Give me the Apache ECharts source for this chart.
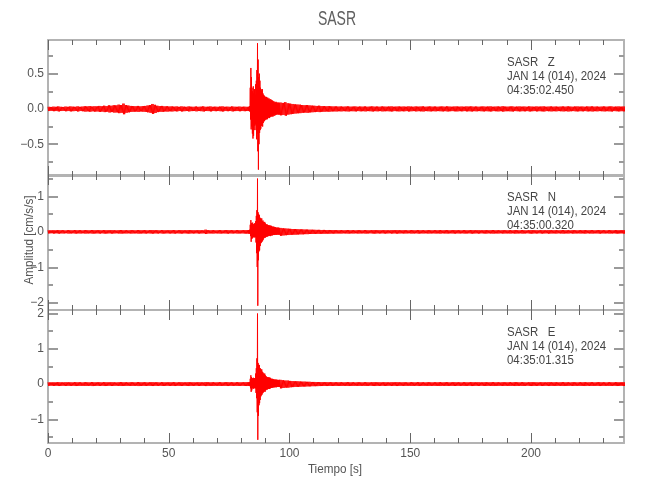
<!DOCTYPE html>
<html>
<head>
<meta charset="utf-8">
<script src="https://cdn.jsdelivr.net/npm/echarts@6/dist/echarts.min.js"></script>
<style>
html, body { margin: 0; background: #fff; }
#chart { width: 650px; height: 500px; }
</style>
</head>
<body>
<div id="chart"></div>
<script>
// envelope of each trace, one value per second (cm/s/s), t = 0..239
const zEnv = [
  0.03,0.028,0.032,0.03,0.035,0.03,0.028,0.033,0.03,0.035,
  0.032,0.03,0.036,0.03,0.033,0.038,0.035,0.04,0.034,0.038,
  0.036,0.042,0.038,0.045,0.04,0.05,0.045,0.052,0.05,0.06,
  0.055,0.075,0.055,0.048,0.042,0.04,0.038,0.042,0.036,0.04,
  0.042,0.048,0.055,0.07,0.058,0.045,0.04,0.042,0.036,0.038,
  0.034,0.036,0.032,0.035,0.03,0.036,0.032,0.03,0.035,0.031,
  0.03,0.034,0.03,0.032,0.036,0.03,0.031,0.035,0.03,0.032,
  0.03,0.033,0.036,0.03,0.032,0.03,0.035,0.031,0.03,0.033,
  0.03,0.032,0.03,0.3,0.45,0.35,0.6,0.9,0.4,0.25,
  0.17,0.15,0.13,0.11,0.1,0.09,0.09,0.085,0.095,0.08,
  0.075,0.07,0.065,0.062,0.06,0.055,0.052,0.055,0.05,0.047,
  0.045,0.042,0.045,0.04,0.04,0.037,0.04,0.036,0.035,0.036,
  0.033,0.035,0.032,0.034,0.036,0.032,0.033,0.035,0.031,0.034,
  0.032,0.035,0.031,0.033,0.036,0.032,0.034,0.031,0.035,0.033,
  0.032,0.034,0.036,0.031,0.033,0.035,0.032,0.034,0.031,0.036,
  0.033,0.031,0.035,0.032,0.034,0.036,0.031,0.033,0.035,0.032,
  0.034,0.031,0.033,0.035,0.032,0.036,0.033,0.031,0.034,0.035,
  0.032,0.034,0.031,0.035,0.033,0.036,0.032,0.034,0.031,0.033,
  0.035,0.032,0.034,0.036,0.031,0.033,0.035,0.032,0.038,0.033,
  0.032,0.034,0.036,0.031,0.033,0.035,0.032,0.034,0.031,0.036,
  0.033,0.031,0.035,0.032,0.034,0.036,0.031,0.033,0.035,0.032,
  0.034,0.031,0.033,0.035,0.032,0.036,0.033,0.031,0.034,0.035,
  0.032,0.034,0.031,0.035,0.033,0.036,0.032,0.034,0.031,0.033,
  0.035,0.032,0.034,0.036,0.031,0.033,0.035,0.032,0.034,0.033
];
const nEnv = [
  0.045,0.04,0.048,0.042,0.05,0.044,0.046,0.04,0.048,0.045,
  0.042,0.05,0.044,0.047,0.041,0.049,0.045,0.043,0.05,0.046,
  0.044,0.048,0.042,0.05,0.046,0.043,0.049,0.045,0.041,0.047,
  0.05,0.044,0.046,0.042,0.048,0.045,0.043,0.05,0.046,0.044,
  0.048,0.042,0.046,0.05,0.044,0.047,0.041,0.049,0.045,0.043,
  0.047,0.044,0.05,0.042,0.046,0.048,0.043,0.045,0.05,0.044,
  0.046,0.042,0.048,0.045,0.043,0.06,0.046,0.044,0.048,0.042,
  0.045,0.049,0.043,0.046,0.05,0.044,0.047,0.042,0.048,0.045,
  0.044,0.048,0.05,0.3,0.33,0.26,0.5,1.5,0.5,0.3,
  0.24,0.19,0.17,0.14,0.12,0.11,0.11,0.1,0.095,0.09,
  0.085,0.08,0.08,0.075,0.07,0.07,0.065,0.065,0.06,0.06,
  0.058,0.055,0.056,0.052,0.054,0.05,0.052,0.048,0.05,0.047,
  0.045,0.048,0.043,0.046,0.05,0.044,0.047,0.042,0.048,0.045,
  0.043,0.049,0.045,0.042,0.047,0.05,0.044,0.046,0.043,0.048,
  0.045,0.042,0.048,0.044,0.05,0.046,0.043,0.047,0.045,0.041,
  0.048,0.045,0.043,0.05,0.044,0.046,0.042,0.048,0.045,0.043,
  0.047,0.044,0.05,0.042,0.046,0.048,0.043,0.045,0.049,0.044,
  0.046,0.042,0.048,0.045,0.043,0.05,0.046,0.044,0.048,0.042,
  0.045,0.049,0.043,0.046,0.05,0.044,0.047,0.042,0.048,0.045,
  0.044,0.048,0.042,0.05,0.046,0.043,0.049,0.045,0.041,0.047,
  0.05,0.044,0.046,0.042,0.048,0.045,0.043,0.05,0.046,0.044,
  0.048,0.042,0.046,0.05,0.044,0.047,0.041,0.049,0.045,0.043,
  0.047,0.044,0.05,0.042,0.046,0.048,0.043,0.045,0.05,0.044,
  0.046,0.042,0.048,0.045,0.043,0.05,0.046,0.044,0.048,0.046
];
const eEnv = [
  0.05,0.046,0.052,0.048,0.055,0.05,0.047,0.053,0.049,0.051,
  0.047,0.055,0.05,0.052,0.046,0.054,0.05,0.048,0.056,0.05,
  0.049,0.053,0.047,0.055,0.051,0.048,0.054,0.05,0.046,0.052,
  0.055,0.05,0.051,0.047,0.053,0.05,0.048,0.056,0.051,0.049,
  0.053,0.047,0.051,0.055,0.049,0.052,0.046,0.054,0.05,0.048,
  0.052,0.049,0.055,0.047,0.051,0.053,0.048,0.05,0.055,0.049,
  0.051,0.047,0.053,0.05,0.048,0.056,0.051,0.049,0.053,0.047,
  0.05,0.054,0.048,0.051,0.055,0.049,0.052,0.047,0.053,0.05,
  0.049,0.053,0.055,0.22,0.25,0.18,0.7,1.6,0.55,0.35,
  0.25,0.2,0.18,0.15,0.13,0.12,0.12,0.11,0.1,0.1,
  0.09,0.085,0.08,0.08,0.075,0.07,0.07,0.065,0.065,0.06,
  0.06,0.058,0.056,0.055,0.053,0.055,0.052,0.054,0.05,0.052,
  0.05,0.053,0.048,0.051,0.055,0.049,0.052,0.047,0.053,0.05,
  0.048,0.054,0.05,0.047,0.052,0.055,0.049,0.051,0.048,0.053,
  0.05,0.047,0.053,0.049,0.055,0.051,0.048,0.052,0.05,0.046,
  0.053,0.05,0.048,0.055,0.049,0.051,0.047,0.053,0.05,0.048,
  0.052,0.049,0.055,0.047,0.051,0.053,0.048,0.05,0.054,0.049,
  0.051,0.047,0.053,0.05,0.048,0.055,0.051,0.049,0.053,0.047,
  0.05,0.054,0.048,0.051,0.055,0.049,0.052,0.047,0.053,0.05,
  0.049,0.053,0.047,0.055,0.051,0.048,0.054,0.05,0.046,0.052,
  0.055,0.05,0.051,0.047,0.053,0.05,0.048,0.055,0.051,0.049,
  0.053,0.047,0.051,0.055,0.049,0.052,0.046,0.054,0.05,0.048,
  0.052,0.049,0.055,0.047,0.051,0.053,0.048,0.05,0.055,0.049,
  0.051,0.047,0.053,0.05,0.048,0.055,0.051,0.049,0.053,0.05
];

// event window 83.00 .. 95.75 s, every 0.25 s: positive / negative peaks
const burstStart = 83;
const burstStep = 0.25;
const zBurstHi = [0.03,0.03,0.04,0.30, 0.58,0.45,0.30,0.25, 0.32,0.22,0.28,0.20, 0.35,0.40,0.55,0.93,
  0.70,0.45,0.50,0.40, 0.30,0.28,0.26,0.28, 0.22,0.20,0.19,0.18, 0.17,0.16,0.17,0.15,
  0.16,0.14,0.15,0.13, 0.14,0.12,0.13,0.11, 0.12,0.10,0.11,0.09, 0.10,0.09,0.10,0.08,
  0.09,0.085,0.09,0.08];
const zBurstLo = [-0.03,-0.03,-0.04,-0.15, -0.29,-0.25,-0.35,-0.42, -0.38,-0.30,-0.24,-0.22, -0.30,-0.43,-0.35,-0.60,
  -0.86,-0.50,-0.34,-0.30, -0.28,-0.24,-0.22,-0.25, -0.20,-0.18,-0.17,-0.16, -0.15,-0.14,-0.15,-0.14,
  -0.13,-0.12,-0.13,-0.12, -0.11,-0.10,-0.11,-0.10, -0.11,-0.09,-0.10,-0.08, -0.09,-0.08,-0.08,-0.07,
  -0.08,-0.08,-0.075,-0.08];
const nBurstHi = [0.05,0.05,0.06,0.20, 0.33,0.25,0.20,0.26, 0.22,0.18,0.24,0.20, 0.30,0.45,0.61,1.50,
  0.55,0.50,0.47,0.40, 0.38,0.35,0.38,0.30, 0.32,0.28,0.26,0.28, 0.24,0.22,0.20,0.21,
  0.19,0.18,0.19,0.17, 0.18,0.16,0.17,0.15, 0.14,0.15,0.13,0.14, 0.12,0.13,0.12,0.11,
  0.12,0.11,0.12,0.11];
const nBurstLo = [-0.05,-0.05,-0.05,-0.12, -0.28,-0.20,-0.18,-0.16, -0.15,-0.14,-0.16,-0.15, -0.30,-0.60,-0.99,-2.08,
  -0.80,-0.55,-0.52,-0.40, -0.32,-0.30,-0.28,-0.25, -0.22,-0.18,-0.16,-0.17, -0.15,-0.14,-0.13,-0.13,
  -0.12,-0.12,-0.11,-0.11, -0.12,-0.10,-0.10,-0.10, -0.09,-0.09,-0.08,-0.09, -0.08,-0.08,-0.08,-0.07,
  -0.08,-0.08,-0.07,-0.08];
const eBurstHi = [0.05,0.05,0.06,0.15, 0.25,0.20,0.17,0.16, 0.18,0.15,0.17,0.16, 0.30,0.45,0.73,2.00,
  0.60,0.55,0.54,0.45, 0.44,0.40,0.42,0.35, 0.33,0.30,0.28,0.30, 0.25,0.22,0.21,0.20,
  0.19,0.18,0.20,0.17, 0.18,0.16,0.15,0.14, 0.15,0.13,0.14,0.12, 0.13,0.12,0.13,0.11,
  0.12,0.12,0.11,0.12];
const eBurstLo = [-0.05,-0.05,-0.06,-0.12, -0.22,-0.18,-0.12,-0.12, -0.13,-0.11,-0.12,-0.12, -0.25,-0.40,-0.80,-1.58,
  -0.90,-0.60,-0.54,-0.45, -0.35,-0.32,-0.30,-0.26, -0.24,-0.22,-0.20,-0.22, -0.18,-0.16,-0.15,-0.15,
  -0.14,-0.13,-0.14,-0.12, -0.12,-0.11,-0.11,-0.10, -0.10,-0.09,-0.09,-0.09, -0.09,-0.08,-0.09,-0.08,
  -0.08,-0.08,-0.08,-0.08];

// axis ticks
const xMax = 238.5;
const xMajorTicks = [0, 50, 100, 150, 200];
const xMinorTicks = [10, 20, 30, 40, 60, 70, 80, 90, 110, 120, 130, 140, 160, 170, 180, 190, 210, 220, 230];
const zMajorTicks = [-0.5, 0, 0.5];
const zMinorTicks = [-0.75, -0.25, 0.25, 0.75];
const nMajorTicks = [-2, -1, 0, 1];
const nMinorTicks = [-1.5, -0.5, 0.5, 1.5];
const eMajorTicks = [-1, 0, 1, 2];
const eMinorTicks = [-1.5, -0.5, 0.5, 1.5];

const stations = ['SASR   Z', 'SASR   N', 'SASR   E'];
const dateLine = 'JAN 14 (014), 2024';
const startTimes = ['04:35:02.450', '04:35:00.320', '04:35:01.315'];

const FONT = "'Liberation Sans', Arial, sans-serif";
const TXT = '#555';
const AXIS = '#b3b3b3';

// each second of envelope is drawn as a dense zig-zag between +a and -a
function trace(env, hi, lo) {
  const burstEnd = burstStart + hi.length * burstStep;
  const pts = [];
  for (let s = 0; s < env.length; s++) {
    if (s >= burstStart && s < burstEnd) continue;
    pts.push([s, env[s]], [s + 0.25, -env[s]], [s + 0.5, env[s]], [s + 0.75, -env[s]]);
  }
  hi.forEach(function (v, i) {
    const t = burstStart + i * burstStep;
    pts.push([t, v], [t + burstStep / 2, lo[i]]);
  });
  pts.sort(function (a, b) { return a[0] - b[0]; });
  return pts;
}

const panels = [
  { env: zEnv, hi: zBurstHi, lo: zBurstLo, min: -0.95, max: 0.976, major: zMajorTicks, minor: zMinorTicks,
    top: 40, height: 136, fmt: function (v) { return v.toFixed(1).replace('-', '\u2212'); } },
  { env: nEnv, hi: nBurstHi, lo: nBurstLo, min: -2.2, max: 1.6, major: nMajorTicks, minor: nMinorTicks,
    top: 175, height: 135, fmt: function (v) { return String(v).replace('-', '\u2212'); } },
  { env: eEnv, hi: eBurstHi, lo: eBurstLo, min: -1.67, max: 2.1, major: eMajorTicks, minor: eMinorTicks,
    top: 310, height: 133, fmt: function (v) { return String(v).replace('-', '\u2212'); } }
];

const grid = [], xAxis = [], yAxis = [], series = [], graphic = [];

panels.forEach(function (p, i) {
  grid.push({ left: 48, right: 26, top: p.top, height: p.height, outerBoundsMode: 'none' });

  function xa(pos, ticks, len, main, labels) {
    return {
      gridIndex: i, type: 'value', min: 0, max: xMax, position: pos,
      axisLine: { show: main, onZero: false, lineStyle: { color: AXIS, width: 2 } },
      axisTick: { show: true, inside: true, length: len, customValues: ticks, lineStyle: { color: '#666', width: 1 } },
      axisLabel: labels ? { show: true, customValues: ticks, margin: 5, color: TXT, fontFamily: FONT, fontSize: 12 } : { show: false },
      splitLine: { show: false }
    };
  }
  function ya(pos, ticks, len, main, labels) {
    return {
      gridIndex: i, type: 'value', min: p.min, max: p.max, position: pos,
      axisLine: { show: main, onZero: false, lineStyle: { color: AXIS, width: 2 } },
      axisTick: { show: true, inside: true, length: len, customValues: ticks, lineStyle: { color: '#9a9a9a', width: 2 } },
      axisLabel: labels ? { show: true, customValues: ticks, margin: 4, color: TXT, fontFamily: FONT, fontSize: 12, formatter: p.fmt } : { show: false },
      splitLine: { show: false }
    };
  }
  xAxis.push(xa('bottom', xMajorTicks, 10, true, i === 2));
  xAxis.push(xa('bottom', xMinorTicks, 5, false, false));
  xAxis.push(xa('top', xMajorTicks, 10, true, false));
  xAxis.push(xa('top', xMinorTicks, 5, false, false));
  yAxis.push(ya('left', p.major, 10, true, true));
  yAxis.push(ya('left', p.minor, 5, false, false));
  yAxis.push(ya('right', p.major, 10, true, false));
  yAxis.push(ya('right', p.minor, 5, false, false));

  series.push({
    type: 'line', xAxisIndex: 4 * i, yAxisIndex: 4 * i,
    data: trace(p.env, p.hi, p.lo),
    showSymbol: false, symbol: 'none', clip: true, silent: true,
    lineStyle: { color: '#ff0000', width: 1 }
  });

  [stations[i], dateLine, startTimes[i]].forEach(function (s, k) {
    graphic.push({
      type: 'text', x: 507, y: p.top + 22 + k * 14.3, scaleX: 0.88,
      style: { text: s, fill: '#444', font: '13px ' + FONT, textVerticalAlign: 'middle' }
    });
  });
});

graphic.push({
  type: 'text', x: 337, y: 19, scaleX: 0.7,
  style: { text: 'SASR', fill: '#606060', font: '20px ' + FONT, textAlign: 'center', textVerticalAlign: 'middle' }
});
graphic.push({
  type: 'text', x: 335, y: 469, scaleX: 0.9,
  style: { text: 'Tiempo [s]', fill: TXT, font: '13px ' + FONT, textAlign: 'center', textVerticalAlign: 'middle' }
});
graphic.push({
  type: 'text', x: 29, y: 240, rotation: Math.PI / 2, scaleX: 0.9,
  style: { text: 'Amplitud [cm/s/s]', fill: TXT, font: '13px ' + FONT, textAlign: 'center', textVerticalAlign: 'middle' }
});

const chart = echarts.init(document.getElementById('chart'));
chart.setOption({
  animation: false,
  backgroundColor: '#fff',
  grid: grid,
  xAxis: xAxis,
  yAxis: yAxis,
  series: series,
  graphic: graphic
});
</script>
</body>
</html>
